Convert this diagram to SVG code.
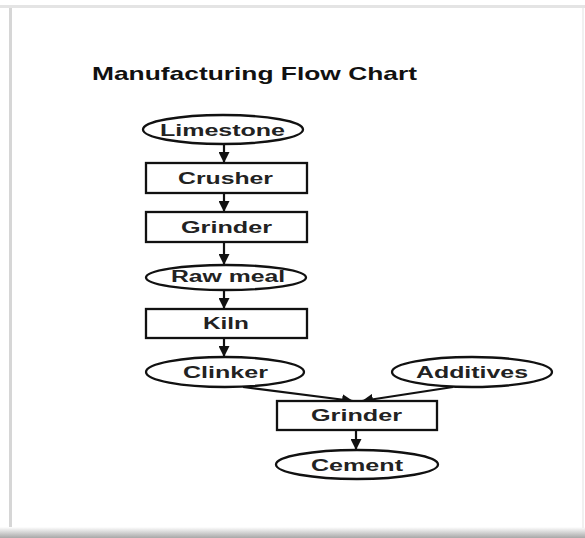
<svg xmlns="http://www.w3.org/2000/svg" width="585" height="538" viewBox="0 0 585 538">
<defs>
<marker id="ah" viewBox="0 0 10 10" refX="10" refY="5" markerWidth="5" markerHeight="5" orient="auto" markerUnits="strokeWidth">
<path d="M0,0 L10,5 L0,10 z" fill="#111"/>
</marker>
<linearGradient id="bot" x1="0" y1="0" x2="0" y2="1">
<stop offset="0" stop-color="#ffffff"/>
<stop offset="1" stop-color="#a8a8a8"/>
</linearGradient>
</defs>
<style>
.shape{fill:#fff;stroke:#111;stroke-width:2.3}
.lbl{font-family:"Liberation Sans",Arial,sans-serif;font-weight:bold;font-size:16px;fill:#222;text-anchor:middle}
.title{font-family:"Liberation Sans",Arial,sans-serif;font-weight:bold;font-size:19px;fill:#111}
.edge{stroke:#111;stroke-width:2.2;fill:none;marker-end:url(#ah)}
</style>
<rect width="585" height="538" fill="#fff"/>
<g id="frame">
<rect x="0" y="5" width="585" height="3" fill="#e4e4e4"/>
<rect x="9" y="8" width="3" height="526" fill="#d6d6d6"/>
<rect x="0" y="527" width="585" height="11" fill="url(#bot)"/>
<rect x="582" y="8" width="2" height="520" fill="#f0f0f0"/>
</g>
<text class="title" x="92" y="80" textLength="325" lengthAdjust="spacingAndGlyphs">Manufacturing Flow Chart</text>
<g id="connectors">
<line class="edge" x1="224" y1="144" x2="224" y2="163"/>
<line class="edge" x1="224" y1="193" x2="224" y2="212"/>
<line class="edge" x1="224" y1="242" x2="224" y2="265"/>
<line class="edge" x1="224" y1="290" x2="224" y2="309"/>
<line class="edge" x1="224" y1="338" x2="224" y2="357"/>
<line class="edge" x1="243" y1="387" x2="353" y2="401"/>
<line class="edge" x1="453" y1="387" x2="362" y2="401"/>
<line class="edge" x1="356" y1="430" x2="356" y2="450"/>
</g>
<g id="limestone">
<ellipse class="shape" cx="223" cy="129.5" rx="80" ry="14.5"/>
<text class="lbl" x="222.5" y="136" textLength="125" lengthAdjust="spacingAndGlyphs">Limestone</text>
</g>
<g id="crusher">
<rect class="shape" x="146" y="163" width="161" height="30"/>
<text class="lbl" x="225.5" y="184" textLength="95" lengthAdjust="spacingAndGlyphs">Crusher</text>
</g>
<g id="grinder1">
<rect class="shape" x="146" y="212" width="161" height="30"/>
<text class="lbl" x="226.5" y="233" textLength="91" lengthAdjust="spacingAndGlyphs">Grinder</text>
</g>
<g id="rawmeal">
<ellipse class="shape" cx="226" cy="277.5" rx="80" ry="12.5"/>
<text class="lbl" x="228" y="282" textLength="114" lengthAdjust="spacingAndGlyphs">Raw meal</text>
</g>
<g id="kiln">
<rect class="shape" x="146" y="309" width="161" height="29"/>
<text class="lbl" x="226" y="329" textLength="46" lengthAdjust="spacingAndGlyphs">Kiln</text>
</g>
<g id="clinker">
<ellipse class="shape" cx="225" cy="372" rx="79" ry="15"/>
<text class="lbl" x="225.5" y="378" textLength="85" lengthAdjust="spacingAndGlyphs">Clinker</text>
</g>
<g id="additives">
<ellipse class="shape" cx="472" cy="372" rx="80" ry="15"/>
<text class="lbl" x="472" y="378" textLength="112" lengthAdjust="spacingAndGlyphs">Additives</text>
</g>
<g id="grinder2">
<rect class="shape" x="277" y="401" width="160" height="29"/>
<text class="lbl" x="356.5" y="421" textLength="91" lengthAdjust="spacingAndGlyphs">Grinder</text>
</g>
<g id="cement">
<ellipse class="shape" cx="357" cy="464.5" rx="81" ry="14.5"/>
<text class="lbl" x="357" y="471" textLength="92" lengthAdjust="spacingAndGlyphs">Cement</text>
</g>
</svg>
